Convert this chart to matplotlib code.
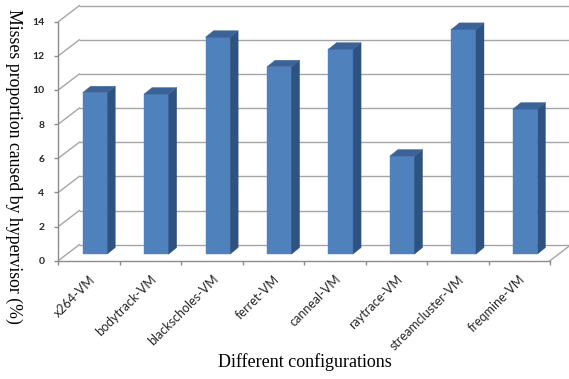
import matplotlib
matplotlib.use("Agg")
import matplotlib.pyplot as plt
from matplotlib.patches import Polygon
from matplotlib.transforms import ScaledTranslation
import numpy as np

# Data
configs = ["x264-VM", "bodytrack-VM", "blackscholes-VM", "ferret-VM",
           "canneal-VM", "raytrace-VM", "streamcluster-VM", "freqmine-VM"]
miss_pct = [9.45, 9.37, 12.70, 10.97, 12.00, 5.74, 13.16, 8.49]
y_ticks = [0, 2, 4, 6, 8, 10, 12, 14]

# Pseudo-3D styling (oblique projection, in data units)
WALL_DX, WALL_DY = 0.342, 0.94     # depth of the back wall
BAR_SHIFT, BAR_BASE = 0.096, 0.39  # bar front face sits mid-way in depth
BAR_W = 0.40
BAR_DX, BAR_DY = 0.13, 0.38        # bar depth
FRONT, SIDE, TOP = "#4F81BD", "#2F5381", "#3B6397"
GRID = "#A6A6A6"
AXIS = "#8C8C8C"

W, H = 569, 379
fig = plt.figure(figsize=(W / 100, H / 100), dpi=100)
px_left, px_right, px_top, px_zero = 58.3, 575.0, 0.0, 260.7
ax = fig.add_axes([px_left / W, (H - px_zero) / H,
                   (px_right - px_left) / W, (px_zero - px_top) / H])

n = len(configs)
x_unit = (550.0 - px_left) / n
y_unit = (px_zero - 21.7) / 14.0
ax.set_xlim(-0.5, -0.5 + (px_right - px_left) / x_unit)
ax.set_ylim(0, (px_zero - px_top) / y_unit)
ax.set_facecolor("none")

x_lo, x_hi = -0.5, n - 0.5

# Back wall gridlines and left wall connectors
for t in y_ticks:
    ax.plot([x_lo + WALL_DX, x_hi + WALL_DX], [t + WALL_DY, t + WALL_DY],
            color=GRID, lw=1.0, zorder=1, solid_capstyle="butt")
    ax.plot([x_lo, x_lo + WALL_DX], [t, t + WALL_DY],
            color=GRID, lw=1.0, zorder=1)
# Right floor edge
ax.plot([x_hi, x_hi + WALL_DX], [0, WALL_DY], color=GRID, lw=1.0, zorder=1)

# Bars: front faces through ax.bar, then side and top faces
idx = np.arange(n)
vals = np.array(miss_pct)
bars = ax.bar(idx + BAR_SHIFT, vals, width=BAR_W, bottom=BAR_BASE,
              color=FRONT, edgecolor=FRONT, linewidth=0.3, zorder=3)
for b, v in zip(bars, vals):
    x0 = b.get_x()
    x1 = x0 + b.get_width()
    y0 = b.get_y()
    y1 = y0 + v
    side = Polygon([(x1, y0), (x1 + BAR_DX, y0 + BAR_DY),
                    (x1 + BAR_DX, y1 + BAR_DY), (x1, y1)],
                   closed=True, facecolor=SIDE, edgecolor=SIDE, lw=0.3, zorder=3)
    top = Polygon([(x0, y1), (x1, y1), (x1 + BAR_DX, y1 + BAR_DY),
                   (x0 + BAR_DX, y1 + BAR_DY)],
                  closed=True, facecolor=TOP, edgecolor=TOP, lw=0.3, zorder=3)
    ax.add_patch(side)
    ax.add_patch(top)

# Axes lines
for s in ["top", "right"]:
    ax.spines[s].set_visible(False)
ax.spines["left"].set_bounds(0, 14)
ax.spines["bottom"].set_bounds(x_lo, x_hi)
for s in ["left", "bottom"]:
    ax.spines[s].set_color(AXIS)
    ax.spines[s].set_linewidth(1.0)
    ax.spines[s].set_zorder(2)

ax.set_yticks(y_ticks)
ax.set_yticklabels([str(t) for t in y_ticks])
ax.tick_params(axis="y", direction="out", length=3, width=1.0, color=AXIS,
               pad=7, labelsize=7.5, labelcolor="#262626")
for lab in ax.get_yticklabels():
    lab.set_fontfamily("Lato")
    lab.set_fontweight("bold")

ax.set_xticks(np.arange(x_lo, x_hi + 0.01, 1.0), minor=True)
ax.set_xticks(idx)
ax.set_xticklabels(configs, rotation=45, ha="right", va="top",
                   rotation_mode="anchor")
ax.tick_params(axis="x", which="minor", direction="out", length=3,
               width=1.0, color=AXIS)
ax.tick_params(axis="x", which="major", length=0, pad=9, labelsize=9,
               labelcolor="#262626")
shift = ScaledTranslation(0, 0, fig.dpi_scale_trans)
for lab in ax.get_xticklabels():
    lab.set_fontfamily("Lato")
    lab.set_transform(lab.get_transform() + shift)

# Axis titles
fig.text(14 / W, 1 - 166 / H, "Misses proportion caused by hypervisor (%)",
         rotation=270, ha="center", va="center", fontsize=12.8,
         family="Liberation Serif", color="black")
fig.text(305 / W, 1 - 362 / H, "Different configurations",
         ha="center", va="center", fontsize=13,
         family="Liberation Serif", color="black")

fig.savefig("out.png", dpi=100)
